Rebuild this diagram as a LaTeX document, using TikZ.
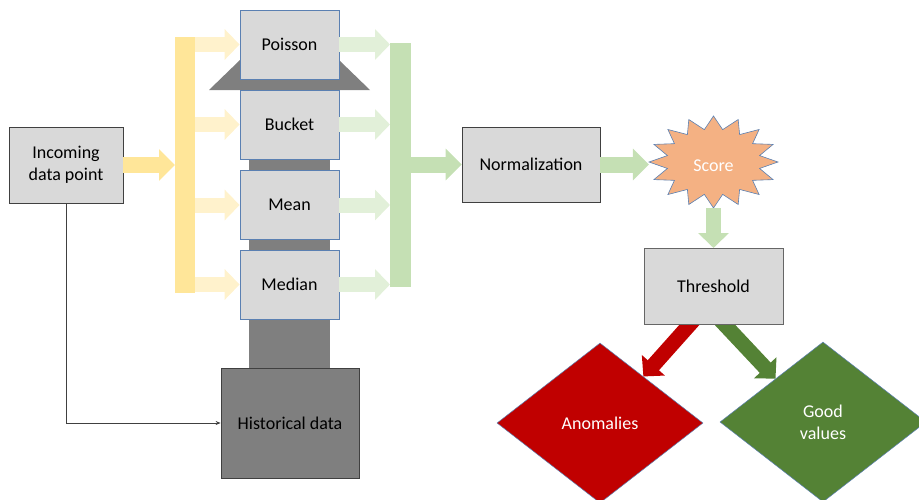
\documentclass[tikz,border=0pt]{standalone}
\usepackage{fontspec}
\setmainfont{Carlito}
\usetikzlibrary{arrows.meta,shapes.geometric,calc}
\definecolor{colBox}{HTML}{D9D9D9}
\definecolor{colDark}{HTML}{7F7F7F}
\definecolor{colBlue}{HTML}{5B80B2}
\definecolor{colEdge}{HTML}{404040}
\definecolor{colYellow}{HTML}{FFE699}
\definecolor{colLYellow}{HTML}{FFF2CC}
\definecolor{colGreen}{HTML}{C5E0B4}
\definecolor{colLGreen}{HTML}{E2F0D9}
\definecolor{colScore}{HTML}{F4B183}
\definecolor{colRed}{HTML}{C00000}
\definecolor{colOK}{HTML}{548235}
\begin{document}
\begin{tikzpicture}[x=1pt,y=-1pt,font=\fontsize{18}{22}\selectfont,
  algbox/.style={draw=colBlue,fill=colBox,line width=0.8pt,minimum width=99,minimum height=69,inner sep=0},
  graybox/.style={draw=colEdge,fill=colBox,line width=0.8pt,inner sep=0,align=center},
  barnode/.style={inner sep=0,outer sep=0},
  blockarrow/.style={line width=15pt,-{Triangle[length=15pt,width=30pt]}},
  bigarrow/.style={line width=16pt,-{Triangle[length=16pt,width=31pt]}},
  decision/.style={diamond,draw=colBlue,line width=0.5pt,minimum width=206,minimum height=160,inner sep=0,text=white,align=center}]
\clip (0,0) rectangle (919,499);
\useasboundingbox (0,0) rectangle (919,499);
% gray backing
\fill[colDark] (249,159) rectangle (330,368);
\fill[colDark] (240,60) -- (339,60) -- (370,90) -- (209,90) -- cycle;
% nodes
\node[graybox,minimum width=114,minimum height=76] (incoming) at (66,165) {Incoming\\data point};
\node[barnode,fill=colYellow,minimum width=20,minimum height=256] (ybar) at (185,165) {};
\node[algbox] (poisson) at (289.5,44.5) {Poisson};
\node[algbox] (bucket) at (289.5,124.5) {Bucket};
\node[algbox] (mean) at (289.5,205) {Mean};
\node[algbox] (median) at (289.5,284.5) {Median};
\node[draw=colEdge,fill=colDark,line width=0.8pt,minimum width=138,minimum height=110,inner sep=0] (hist) at (290,423) {Historical data};
\node[barnode,fill=colGreen,minimum width=21,minimum height=244] (gbar) at (400.5,165) {};
\node[graybox,minimum width=138,minimum height=75] (norm) at (531,164.5) {Normalization};
\node[ellipse,minimum width=129,minimum height=92,inner sep=0,text=white] (score) at (713.5,162) {};
\draw[draw=colBlue,fill=colScore,line width=0.6pt] (778,162)
  \foreach \k in {1,...,31}{ -- ({713.5+ifthenelse(isodd(\k),47,64.5)*cos(\k*11.25)},{162+ifthenelse(isodd(\k),33,46)*sin(\k*11.25)}) } -- cycle;
\node[text=white] at (713.5,166) {Score};
\node[decision,fill=colRed] (anom) at (600,423) {Anomalies};
\node[decision,fill=colOK] (good) at (823,422) {Good\\values};
% arrows
\draw[bigarrow,colYellow] (incoming.east) -- (ybar.west);
\foreach \b in {poisson,bucket,mean,median}{
  \draw[blockarrow,colLYellow] (ybar.east |- \b.west) -- (\b.west);
  \draw[blockarrow,colLGreen] (\b.east) -- (gbar.west |- \b.east);
}
\draw[bigarrow,colGreen] (gbar.east |- norm.west) -- (norm.west);
\draw[bigarrow,colGreen] (norm.east) -- (score.west |- norm.east);
\draw[blockarrow,colGreen] (score.south) -- (713.5,248);
\draw[blockarrow,colRed] ($(713.5,324)+(-18,-6)$) -- ($(anom.north)!0.42!(anom.east)$);
\draw[blockarrow,colOK] ($(713.5,324)+(5,-6)$) -- ($(good.north)!0.46!(good.west)$);
\node[graybox,draw=colEdge!80,minimum width=139,minimum height=76] (thresh) at (713.5,286) {Threshold};
\draw[colEdge,line width=0.8pt,-{Stealth[length=5pt,width=4pt]}] (incoming.south) |- (hist.west);
\end{tikzpicture}
\end{document}
